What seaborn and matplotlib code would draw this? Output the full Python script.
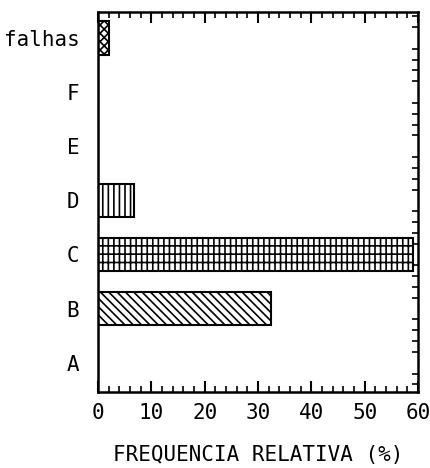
import matplotlib
matplotlib.use('Agg')
import matplotlib.pyplot as plt
from matplotlib.ticker import MultipleLocator
import seaborn as sns
import pandas as pd

sns.set_style('ticks')
plt.rcParams['font.family'] = ['DejaVu Sans Mono']
plt.rcParams['hatch.linewidth'] = 1.2
plt.rcParams['text.color'] = 'black'
plt.rcParams['xtick.color'] = 'black'
plt.rcParams['ytick.color'] = 'black'
plt.rcParams['axes.labelcolor'] = 'black'

categorias = ['falhas', 'F', 'E', 'D', 'C', 'B', 'A']
frequencia = [2.0, 0.0, 0.0, 6.7, 59.0, 32.5, 0.0]
hachuras = ['xxxx', '', '', '|||', '|||--', '\\\\\\\\', '']

df = pd.DataFrame({'categoria': categorias, 'freq': frequencia})

fig = plt.figure(figsize=(4.31, 4.68), dpi=100)
ax = fig.add_axes([0.2274, 0.1624, 0.7426, 0.812])

sns.barplot(data=df, x='freq', y='categoria', order=categorias, orient='h',
            color='white', edgecolor='black', linewidth=1.5, width=0.62,
            saturation=1, ax=ax)

for patch, h in zip(ax.patches, hachuras):
    patch.set_hatch(h)
    patch.set_facecolor('white')
    patch.set_edgecolor('black')

ax.set_xlim(0, 60)
ax.set_ylim(6.54, -0.48)
ax.xaxis.set_major_locator(MultipleLocator(10))
ax.xaxis.set_minor_locator(MultipleLocator(2))
ax.yaxis.set_minor_locator(MultipleLocator(0.2))

ax.tick_params(axis='x', which='major', direction='in', length=8, width=1.5,
               top=True, labelsize=15, pad=8)
ax.tick_params(axis='x', which='minor', direction='in', length=4, width=1.2, top=True)
ax.tick_params(axis='y', which='major', left=False, right=False, labelsize=15, pad=10)
ax.tick_params(axis='y', which='minor', left=False, right=True, direction='in',
               length=4, width=1.2)

for s in ax.spines.values():
    s.set_visible(True)
    s.set_linewidth(1.8)
    s.set_color('black')

ax.set_ylabel('')
ax.set_xlabel('FREQUENCIA RELATIVA (%)', fontsize=15, labelpad=16)

fig.savefig('out.png', dpi=100)
